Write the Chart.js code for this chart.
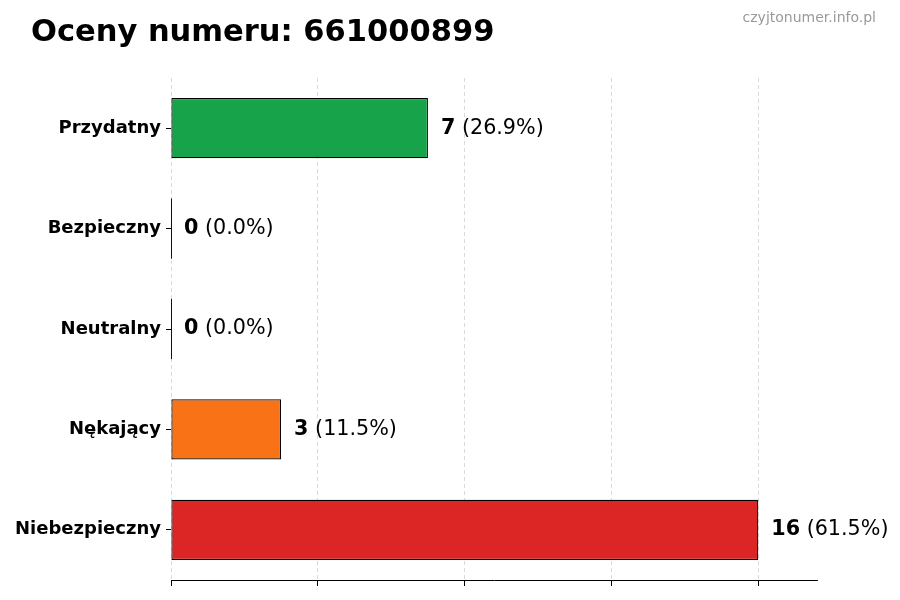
<!DOCTYPE html>
<html>
<head>
<meta charset="utf-8">
<script src="https://cdn.jsdelivr.net/npm/chart.js@4/dist/chart.umd.min.js"></script>
<style>
  html, body { margin: 0; padding: 0; background: #fff; }
  #wrap { width: 900px; height: 600px; }
</style>
</head>
<body>
<div id="wrap"><canvas id="js-chart"></canvas></div>
<script>
"use strict";

const titleText = "Oceny numeru: 661000899";
const siteText = "czyjtonumer.info.pl";
const labels = ["Przydatny", "Bezpieczny", "Neutralny", "Nękający", "Niebezpieczny"];
const counts = [7, 0, 0, 3, 16];
const percents = ["26.9%", "0.0%", "0.0%", "11.5%", "61.5%"];
const barColors = ["#16a34a", "#16a34a", "#9ca3af", "#f97316", "#dc2626"];
const xTicks = [0, 4, 8, 12, 16];
const xMax = 17.6;

const FONT = "'DejaVu Sans', sans-serif";

// tytuł, podpis strony i etykiety wartości przy słupkach
const extras = {
  id: "extras",
  afterDatasetsDraw(chart) {
    const ctx = chart.ctx;
    const meta = chart.getDatasetMeta(0);
    ctx.save();
    meta.data.forEach((bar, i) => {
      const h = bar.height;
      if (counts[i] === 0) {
        ctx.strokeStyle = "#111";
        ctx.lineWidth = 1;
        ctx.beginPath();
        ctx.moveTo(bar.base + 0.5, bar.y - h / 2);
        ctx.lineTo(bar.base + 0.5, bar.y + h / 2);
        ctx.stroke();
      }
      const x0 = bar.x + 13;
      ctx.textBaseline = "middle";
      ctx.textAlign = "left";
      ctx.fillStyle = "#000";
      ctx.font = "bold 20.7px " + FONT;
      const num = String(counts[i]);
      ctx.fillText(num, x0, bar.y);
      const w = ctx.measureText(num).width;
      ctx.font = "20.7px " + FONT;
      ctx.fillText(" (" + percents[i] + ")", x0 + w, bar.y);
    });
    ctx.restore();
  },
  afterDraw(chart) {
    const ctx = chart.ctx;
    ctx.save();
    ctx.fillStyle = "#000";
    ctx.font = "bold 30.5px " + FONT;
    ctx.textBaseline = "alphabetic";
    ctx.textAlign = "left";
    ctx.fillText(titleText, 31, 41);
    ctx.fillStyle = "#9a9a9a";
    ctx.font = "14px " + FONT;
    ctx.textAlign = "right";
    ctx.fillText(siteText, 876, 22);
    ctx.restore();
  }
};

const ctx = document.getElementById("js-chart").getContext("2d");
new Chart(ctx, {
  type: "bar",
  data: {
    labels: labels,
    datasets: [{
      data: counts,
      backgroundColor: barColors,
      borderColor: "#000",
      borderWidth: 1.2,
      borderSkipped: false,
      barPercentage: 0.6,
      categoryPercentage: 1.0
    }]
  },
  options: {
    indexAxis: "y",
    responsive: true,
    maintainAspectRatio: false,
    animation: false,
    layout: { padding: { top: 78, right: 83, bottom: 0, left: 0 } },
    plugins: {
      legend: { display: false },
      tooltip: { enabled: false },
      title: { display: false }
    },
    scales: {
      x: {
        min: 0,
        max: xMax,
        afterFit(s) { s.height = 20; },
        afterBuildTicks(s) { s.ticks = xTicks.map(v => ({ value: v })); },
        ticks: { callback: () => "", includeBounds: false },
        grid: {
          color: "rgba(170,170,170,0.55)",
          lineWidth: 0.8,
          tickColor: "#000",
          tickLength: 6,
          tickWidth: 1
        },
        border: { display: true, color: "#000", width: 1, dash: [4, 3] }
      },
      y: {
        afterFit(s) { s.width = 171; },
        ticks: {
          color: "#000",
          padding: 5,
          font: { family: FONT, size: 18, weight: "bold" }
        },
        grid: {
          offset: false,
          drawOnChartArea: false,
          drawTicks: true,
          tickLength: 5,
          tickColor: "#000",
          tickWidth: 1
        },
        border: { display: false }
      }
    }
  },
  plugins: [extras]
});
</script>
</body>
</html>
